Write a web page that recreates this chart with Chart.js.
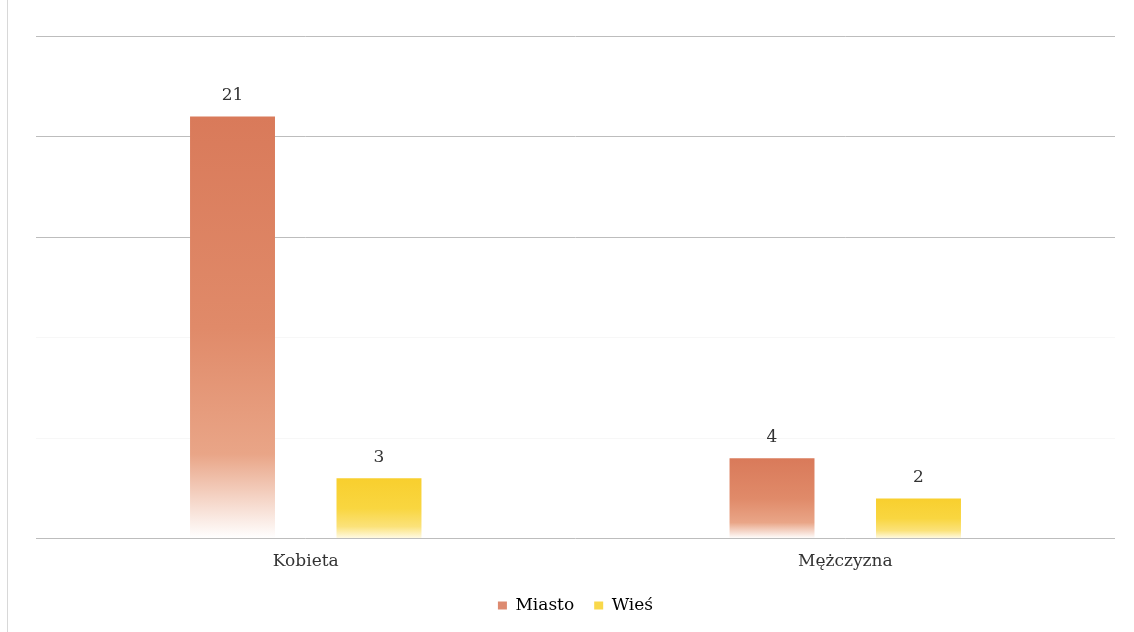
<!DOCTYPE html>
<html>
<head>
<meta charset="utf-8">
<script src="https://cdn.jsdelivr.net/npm/chart.js@4"></script>
<style>
html,body{margin:0;padding:0;background:#fff;}
#wrap{position:relative;width:1134px;height:632px;}
#edge{position:absolute;left:7px;top:0;width:1px;height:632px;background:#d8d8d8;}
canvas{position:absolute;left:0;top:0;}
</style>
</head>
<body>
<div id="wrap"><div id="edge"></div><canvas id="c" width="1134" height="632"></canvas></div>
<script>
const categories = ['Kobieta', 'Mężczyzna'];
const seriesNames = ['Miasto', 'Wieś'];
const miasto = [21, 4];
const wies = [3, 2];
const yTicks = [0, 5, 10, 15, 20, 25];

const baseColors = { Miasto: ['#d97a5a', '#e9a587', '#ffffff'], 'Wieś': ['#f8cf2e', '#fbe27a', '#fffbe8'] };

function barGradient(name) {
  return function(ctx) {
    const chart = ctx.chart;
    const cols = baseColors[name];
    if (ctx.type !== 'data' || !chart.chartArea || !chart.scales.y) return cols[0];
    const ys = chart.scales.y;
    const top = ys.getPixelForValue(ctx.raw);
    const bot = ys.getPixelForValue(0);
    if (!isFinite(top) || !isFinite(bot) || bot - top < 1) return cols[0];
    const g = chart.ctx.createLinearGradient(0, top, 0, bot);
    g.addColorStop(0, cols[0]);
    g.addColorStop(0.5, name === 'Miasto' ? '#e08a69' : '#f9d640');
    g.addColorStop(0.8, cols[1]);
    g.addColorStop(1, cols[2]);
    return g;
  };
}

const valueLabels = {
  id: 'valueLabels',
  afterDatasetsDraw(chart) {
    const c = chart.ctx;
    c.save();
    c.font = '17px "DejaVu Serif", serif';
    c.fillStyle = '#333';
    c.textAlign = 'center';
    c.textBaseline = 'bottom';
    chart.data.datasets.forEach((ds, i) => {
      const meta = chart.getDatasetMeta(i);
      meta.data.forEach((el, j) => {
        c.fillText(String(ds.data[j]), el.x, el.y - 12);
      });
    });
    c.restore();
  }
};

new Chart(document.getElementById('c'), {
  type: 'bar',
  data: {
    labels: categories,
    datasets: [
      { label: seriesNames[0], data: miasto, backgroundColor: barGradient('Miasto'), categoryPercentage: 0.543, barPercentage: 0.58 },
      { label: seriesNames[1], data: wies, backgroundColor: barGradient('Wieś'), categoryPercentage: 0.543, barPercentage: 0.58 }
    ]
  },
  options: {
    responsive: false,
    animation: false,
    layout: { padding: { left: 36, right: 19, top: 36, bottom: 8 } },
    scales: {
      x: {
        grid: { display: false },
        border: { display: false },
        ticks: { color: '#333', font: { family: '"DejaVu Serif", serif', size: 17 }, padding: 5 }
      },
      y: {
        min: 0, max: 25,
        afterBuildTicks(axis) { axis.ticks = yTicks.map(v => ({ value: v })); },
        ticks: { display: false },
        border: { display: false },
        grid: {
          drawTicks: false,
          color: ctx => (ctx.tick && (ctx.tick.value === 5 || ctx.tick.value === 10)) ? 'rgba(0,0,0,0.03)' : '#bdbdbd',
          lineWidth: 1
        }
      }
    },
    plugins: {
      legend: {
        position: 'bottom',
        labels: {
          boxWidth: 9, boxHeight: 8, padding: 20, color: '#333',
          font: { family: '"DejaVu Serif", serif', size: 17 },
          generateLabels(chart) {
            return chart.data.datasets.map((ds, i) => ({
              text: ds.label,
              fillStyle: i === 0 ? '#dd8a70' : '#f9d84a',
              strokeStyle: 'transparent', lineWidth: 0, datasetIndex: i, hidden: false
            }));
          }
        }
      },
      tooltip: { enabled: false }
    }
  },
  plugins: [valueLabels]
});
</script>
</body>
</html>
